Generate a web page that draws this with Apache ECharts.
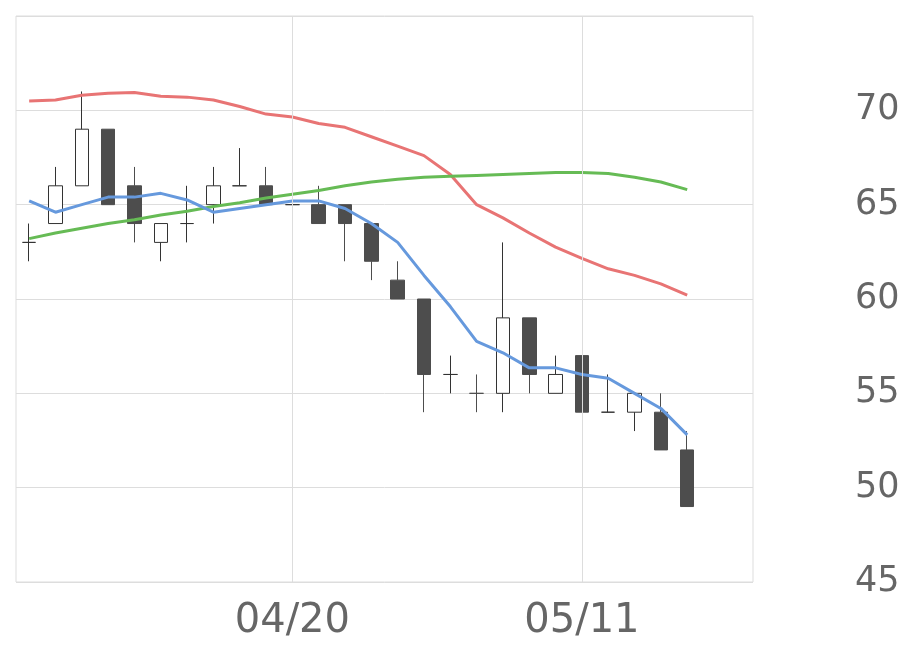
<!DOCTYPE html>
<html><head><meta charset="utf-8">
<script src="https://cdn.jsdelivr.net/npm/echarts@6/dist/echarts.min.js"></script>
<style>html,body{margin:0;padding:0;background:#fff}#c{width:920px;height:669px}</style>
</head><body><div id="c"></div>
<script>
const dates=['04/06','04/07','04/08','04/09','04/10','04/13','04/14','04/15','04/16','04/17','04/20','04/21','04/22','04/23','04/24','04/27','04/28','04/30','05/01','05/07','05/08','05/11','05/12','05/13','05/14','05/15','05/18','05/19'];
// [open, close, low, high]
const ohlc=[[63,63,62,64],[64,66,64,67],[66,69,66,71],[69,65,65,69],[66,64,63,67],[63,64,62,64],[64,64,63,66],[65,66,64,67],[66,66,66,68],[66,65,65,67],[65,65,64,67],[65,64,64,66],[65,64,62,65],[64,62,61,64],[61,60,60,62],[60,56,54,60],[56,56,55,57],[55,55,54,56],[55,59,54,63],[59,56,55,59],[55,56,55,57],[57,54,54,57],[54,54,54,56],[54,55,53,55],[54,52,52,55],[52,49,49,53]];
const maRed=[70.5,70.55,70.8,70.9,70.95,70.75,70.7,70.55,70.2,69.8,69.65,69.3,69.1,68.6,68.1,67.6,66.6,65.0,64.3,63.5,62.75,62.15,61.6,61.25,60.8,60.2];
const maGreen=[63.2,63.5,63.75,64.0,64.2,64.45,64.65,64.9,65.1,65.35,65.55,65.75,66,66.2,66.35,66.45,66.5,66.55,66.6,66.65,66.7,66.7,66.65,66.45,66.2,65.8];
const maBlue=[65.2,64.6,65.0,65.4,65.4,65.6,65.25,64.6,64.8,65.0,65.2,65.2,64.8,64.0,63.0,61.25,59.6,57.75,57.15,56.35,56.35,56.0,55.8,55.0,54.2,52.8];
const labelDates=['04/20','05/11'];
const chart=echarts.init(document.getElementById('c'));
chart.setOption({
 animation:false,
 grid:{left:16,right:167,top:16,bottom:87,show:true,borderColor:'#ddd',borderWidth:1},
 xAxis:{type:'category',data:dates,boundaryGap:true,
  axisLine:{show:false},axisTick:{show:false},splitLine:{show:false},
  axisLabel:{interval:(i,v)=>labelDates.includes(v),formatter:v=>labelDates.includes(v)?v:'',color:'#666',fontSize:40,margin:20,fontFamily:'DejaVu Sans'}},
 yAxis:{type:'value',position:'right',min:45,max:75,interval:5,
  axisLine:{show:false},axisTick:{show:false},splitLine:{lineStyle:{color:'#ddd'}},
  axisLabel:{color:'#666',fontSize:35,margin:102,align:'left',fontFamily:'DejaVu Sans',formatter:v=>v>=75?'':v}},
 series:[
  {type:'candlestick',data:ohlc,barWidth:14,
   itemStyle:{color:'#fff',borderColor:'#333',color0:'#4d4d4d',borderColor0:'#4d4d4d',borderWidth:1},
   markLine:{silent:true,symbol:'none',label:{show:false},lineStyle:{color:'#ddd',type:'solid',width:1},
    data:labelDates.map(d=>({xAxis:d}))}},
  {type:'line',data:maRed,symbol:'none',lineStyle:{color:'#e87474',width:3}},
  {type:'line',data:maGreen,symbol:'none',lineStyle:{color:'#66bb55',width:3}},
  {type:'line',data:maBlue,symbol:'none',lineStyle:{color:'#6699dd',width:3}}
 ]
});
</script></body></html>
